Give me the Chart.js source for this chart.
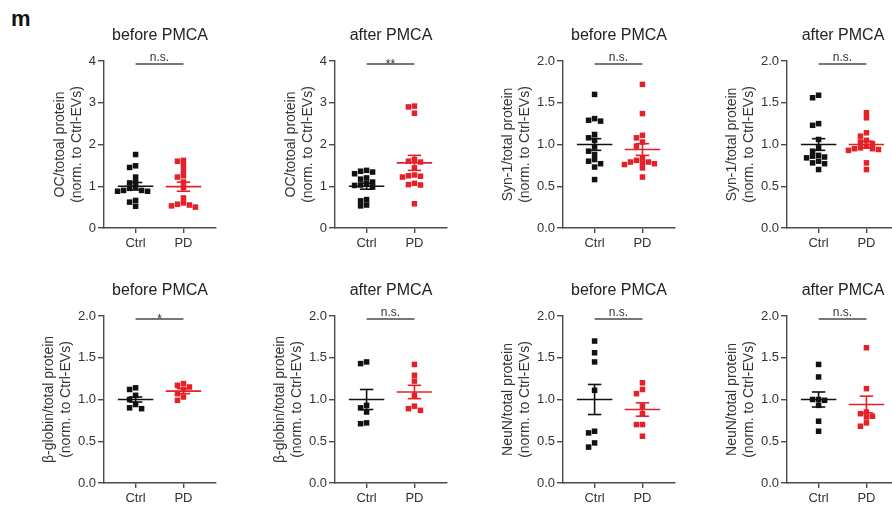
<!DOCTYPE html>
<html><head><meta charset="utf-8">
<script src="https://cdn.jsdelivr.net/npm/chart.js@4.4.1/dist/chart.umd.min.js"></script>
<style>
body{margin:0;width:892px;height:511px;overflow:hidden;background:#fff;position:relative;font-family:'Liberation Sans',Arial,sans-serif}
.p{position:absolute;width:225px;height:256px}
#m{position:absolute;left:11px;top:8px;font-weight:bold;font-size:22px;line-height:22px;color:#111}
</style></head><body>
<div id="m">m</div>
<script>
// ---------- data ----------
const groups = ['Ctrl', 'PD'];
const titles = ['before PMCA','after PMCA','before PMCA','after PMCA','before PMCA','after PMCA','before PMCA','after PMCA'];
const yTitles = ['OC/totoal protein','OC/totoal protein','Syn-1/total protein','Syn-1/total protein',
                 'β-globin/total protein','β-globin/total protein','NeuN/total protein','NeuN/total protein'];
const yTitle2 = '(norm. to Ctrl-EVs)';
const sigLabels = ['n.s.','**','n.s.','n.s.','*','n.s.','n.s.','n.s.'];
const yMax  = [4, 4, 2, 2, 2, 2, 2, 2];
const yStep = [1, 1, 0.5, 0.5, 0.5, 0.5, 0.5, 0.5];

const ocBeforeCtrl  = [1.76,1.49,1.45,1.22,1.10,1.08,0.98,0.95,0.90,0.88,0.90,0.88,0.66,0.62,0.52];
const ocBeforePD    = [1.62,1.60,1.50,1.37,1.25,1.22,1.10,0.97,0.72,0.60,0.57,0.55,0.53,0.50];
const ocAfterCtrl   = [1.38,1.36,1.34,1.30,1.20,1.17,1.10,1.07,1.03,1.02,0.98,0.68,0.65,0.55,0.53];
const ocAfterPD     = [2.92,2.90,2.75,1.64,1.60,1.58,1.44,1.27,1.25,1.22,1.24,1.07,1.04,1.03,0.58];
const synBeforeCtrl = [1.60,1.31,1.29,1.28,1.12,1.08,1.05,0.97,0.92,0.88,0.82,0.80,0.77,0.73,0.58];
const synBeforePD   = [1.72,1.37,1.11,1.08,1.03,0.98,0.84,0.81,0.79,0.79,0.78,0.77,0.76,0.72,0.61];
const synAfterCtrl  = [1.59,1.56,1.25,1.23,1.06,0.96,0.92,0.87,0.86,0.85,0.84,0.80,0.78,0.77,0.70];
const synAfterPD    = [1.38,1.32,1.14,1.10,1.05,1.03,1.01,0.98,0.96,0.95,0.95,0.94,0.93,0.78,0.70];
const hbBeforeCtrl  = [1.14,1.12,1.05,1.00,0.94,0.90,0.89];
const hbBeforePD    = [1.19,1.17,1.15,1.12,1.07,1.03,0.99];
const hbAfterCtrl   = [1.45,1.43,0.93,0.90,0.85,0.72,0.71];
const hbAfterPD     = [1.42,1.29,1.22,1.05,0.92,0.89,0.87];
const neunBeforeCtrl= [1.70,1.56,1.45,1.11,0.62,0.60,0.48,0.43];
const neunBeforePD  = [1.20,1.12,1.07,0.92,0.83,0.70,0.70,0.56];
const neunAfterCtrl = [1.42,1.27,1.00,1.00,0.99,0.93,0.74,0.62];
const neunAfterPD   = [1.62,1.13,0.85,0.83,0.80,0.79,0.72,0.68];

const ctrlMeans = [1.00,1.00,1.00,1.00,1.00,1.00,1.00,1.00];
const ctrlSEM   = [0.09,0.07,0.07,0.07,0.03,0.12,0.18,0.09];
const pdMeans   = [0.99,1.56,0.94,1.00,1.10,1.09,0.88,0.94];
const pdSEM     = [0.11,0.18,0.07,0.04,0.03,0.08,0.08,0.10];

const ctrlSets = [ocBeforeCtrl,ocAfterCtrl,synBeforeCtrl,synAfterCtrl,hbBeforeCtrl,hbAfterCtrl,neunBeforeCtrl,neunAfterCtrl];
const pdSets   = [ocBeforePD,ocAfterPD,synBeforePD,synAfterPD,hbBeforePD,hbAfterPD,neunBeforePD,neunAfterPD];

// ---------- layout / style ----------
const FONT = "'Liberation Sans', Arial, sans-serif";
Chart.defaults.font.family = FONT;
const axisX = [103.5, 335, 563, 787];
const rowTop = [0, 255];
const BLACK = '#111111', RED = 'rgb(228,32,40)', AX = '#4a4a4a';
const PLOT_H = 167, PX_X = 47.86, STEP_X = 6, GAP_Y = 4.5;

// GraphPad-like horizontal spreading of points sharing a level
function swarm(values, ymax){
  const pxY = PLOT_H / ymax;
  const idx = values.map((v,i)=>i).sort((a,b)=>values[b]-values[a]);
  const placed = [], off = new Array(values.length).fill(0);
  for (const i of idx){
    const y = values[i]*pxY;
    for (let k=0;k<60;k++){
      const c = k===0 ? 0 : (k%2 ? -1 : 1) * Math.ceil(k/2) * STEP_X;
      if (placed.every(p => Math.abs(p.y-y) >= GAP_Y || Math.abs(p.x-c) >= STEP_X)){
        off[i] = c; placed.push({x:c,y}); break;
      }
    }
  }
  return off.map(o => o / PX_X);
}

const sigPlugin = {
  id: 'sig',
  afterDraw(chart, args, opts){
    const {ctx, scales:{x, y}} = chart;
    const x0 = x.getPixelForValue(0), x1 = x.getPixelForValue(1);
    const yy = y.getPixelForValue(y.max) + 3;
    ctx.save();
    ctx.strokeStyle = AX; ctx.lineWidth = 1.4;
    ctx.beginPath(); ctx.moveTo(x0, yy); ctx.lineTo(x1, yy); ctx.stroke();
    ctx.fillStyle = '#333'; ctx.font = '12px ' + FONT;
    ctx.textAlign = 'center'; ctx.textBaseline = 'alphabetic';
    ctx.fillText(opts.text, (x0+x1)/2, opts.text.indexOf('*')>=0 ? yy + 3.5 : yy - 3);
    ctx.restore();
  }
};

function seg(x0, x1, y0, y1, color, w){
  return {type:'line', data:[{x:x0,y:y0},{x:x1,y:y1}], borderColor:color, borderWidth:w,
          pointRadius:0, showLine:true, fill:false, order:0};
}

for (let p=0; p<8; p++){
  const row = Math.floor(p/4), col = p%4;
  const cv = document.createElement('canvas');
  cv.className = 'p';
  cv.style.left = (axisX[col]-100) + 'px';
  cv.style.top = rowTop[row] + 'px';
  cv.width = 225; cv.height = 256;
  document.body.appendChild(cv);

  const sets = [ctrlSets[p], pdSets[p]];
  const means = [ctrlMeans[p], pdMeans[p]];
  const sems = [ctrlSEM[p], pdSEM[p]];
  const colors = [BLACK, RED];
  const datasets = [];
  sets.forEach((vals, g) => {
    const off = swarm(vals, yMax[p]);
    datasets.push({type:'scatter', data: vals.map((v,i)=>({x:g+off[i], y:v})),
      pointStyle:'rect', pointRadius:3.9, pointHoverRadius:3.9, backgroundColor:colors[g],
      borderWidth:0, order:1});
    const m = means[g], s = sems[g];
    datasets.push(seg(g-0.37, g+0.37, m, m, colors[g], 1.6));
    datasets.push(seg(g-0.14, g+0.14, m+s, m+s, colors[g], 1.6));
    datasets.push(seg(g-0.14, g+0.14, m-s, m-s, colors[g], 1.6));
    datasets.push(seg(g, g, m-s, m+s, colors[g], 1.6));
  });

  const dec = yStep[p] < 1 ? 1 : 0;
  const titlePad = dec ? 36.5 : 47.5;
  new Chart(cv, {
    type: 'scatter',
    data: {datasets},
    plugins: [sigPlugin],
    options: {
      responsive:false, animation:false, events:[],
      layout:{padding:{left:0, right:13, top:0, bottom:0}},
      plugins:{
        legend:{display:false}, tooltip:{enabled:false},
        title:{display:true, text:titles[p], fullSize:false, color:'#222',
               font:{size:16, weight:'normal', lineHeight:1.2}, padding:{top:26.4, bottom:15.4}},
        sig:{text:sigLabels[p]}
      },
      scales:{
        x:{type:'linear', min:-0.66, max:1.68,
           afterBuildTicks: s => { s.ticks = groups.map((g,i)=>({value:i})); },
           afterFit: s => { s.height = 28; },
           ticks:{callback: v => groups[v], color:'#333', font:{size:13}, padding:3, maxRotation:0, autoSkip:false},
           grid:{display:true, drawOnChartArea:false, tickLength:5, color:AX, lineWidth:1.4},
           border:{display:true, color:AX, width:1.4}},
        y:{min:0, max:yMax[p],
           afterFit: s => { s.width = 100; },
           ticks:{stepSize:yStep[p], callback: v => v.toFixed(dec), color:'#333', font:{size:13}, padding:2},
           grid:{display:true, drawOnChartArea:false, tickLength:6, color:AX, lineWidth:1.4},
           border:{display:true, color:AX, width:1.4},
           title:{display:true, text:[yTitles[p], yTitle2], color:'#333',
                  font:{size:14, lineHeight:1.21}, padding:{top:titlePad, bottom:0}}}
      }
    }
  });
}
</script>
</body></html>
